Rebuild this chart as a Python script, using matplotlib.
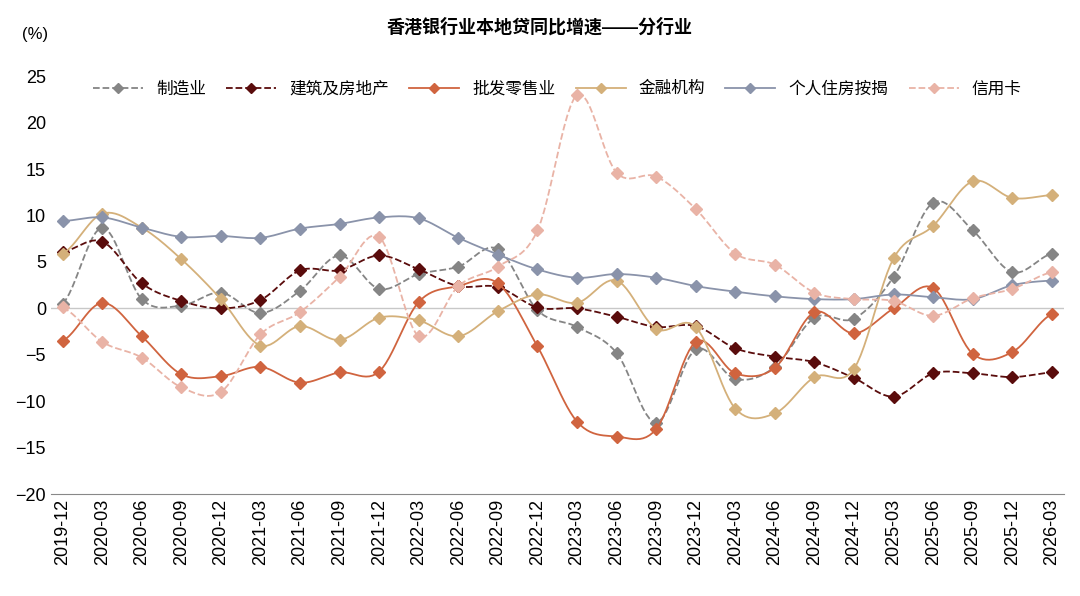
import numpy as np
import matplotlib.pyplot as plt

plt.rcParams['font.family'] = ['Liberation Sans', 'Noto Sans CJK SC', 'DejaVu Sans']

quarters = ['2019-12', '2020-03', '2020-06', '2020-09', '2020-12', '2021-03', '2021-06', '2021-09',
            '2021-12', '2022-03', '2022-06', '2022-09', '2022-12', '2023-03', '2023-06', '2023-09',
            '2023-12', '2024-03', '2024-06', '2024-09', '2024-12', '2025-03', '2025-06', '2025-09',
            '2025-12', '2026-03']

manufacturing = [0.5, 8.7, 1.0, 0.3, 1.7, -0.5, 1.9, 5.7, 2.1, 3.7, 4.5, 6.4, -0.2, -2.0, -4.8, -12.3,
                 -4.4, -7.6, -6.3, -1.0, -1.1, 3.4, 11.4, 8.4, 3.9, 5.9]
construction = [6.1, 7.2, 2.7, 0.8, 0.0, 0.9, 4.1, 4.1, 5.7, 4.2, 2.4, 2.3, 0.1, 0.0, -0.9, -2.0,
                -1.9, -4.3, -5.2, -5.8, -7.5, -9.5, -7.0, -7.0, -7.4, -6.9]
wholesale = [-3.5, 0.6, -3.0, -7.1, -7.3, -6.3, -8.0, -6.9, -6.8, 0.7, 2.4, 2.7, -4.1, -12.2, -13.8, -13.0,
             -3.6, -7.0, -6.4, -0.4, -2.7, 0.0, 2.2, -4.9, -4.7, -0.6]
financial = [5.9, 10.2, 8.7, 5.3, 1.0, -4.0, -1.9, -3.4, -1.0, -1.3, -3.0, -0.3, 1.5, 0.6, 3.0, -2.2,
             -2.0, -10.8, -11.3, -7.4, -6.5, 5.4, 8.9, 13.7, 11.9, 12.2]
mortgage = [9.4, 9.8, 8.7, 7.7, 7.8, 7.6, 8.6, 9.1, 9.8, 9.7, 7.6, 5.8, 4.2, 3.3, 3.7, 3.3,
            2.4, 1.8, 1.3, 1.0, 1.0, 1.5, 1.2, 1.0, 2.5, 3.0]
credit_card = [0.1, -3.6, -5.3, -8.5, -9.0, -2.8, -0.4, 3.4, 7.7, -3.0, 2.4, 4.5, 8.4, 23.0, 14.6, 14.2,
               10.7, 5.9, 4.7, 1.7, 1.0, 0.8, -0.8, 1.1, 2.1, 3.9]


def smooth(y, n=12):
    # Catmull-Rom curve through the points, for drawing only
    y = np.asarray(y, float)
    p = np.concatenate([[y[0]], y, [y[-1]]])
    xs, ys = [], []
    t = np.linspace(0, 1, n, endpoint=False)
    for i in range(len(y) - 1):
        p0, p1, p2, p3 = p[i], p[i + 1], p[i + 2], p[i + 3]
        seg = 0.5 * (2 * p1 + (-p0 + p2) * t + (2 * p0 - 5 * p1 + 4 * p2 - p3) * t ** 2
                     + (-p0 + 3 * p1 - 3 * p2 + p3) * t ** 3)
        xs.extend(i + t)
        ys.extend(seg)
    xs.append(len(y) - 1)
    ys.append(y[-1])
    return np.array(xs), np.array(ys)


series = [
    ('制造业', manufacturing, '#858585', '--'),
    ('建筑及房地产', construction, '#5a0c0c', '--'),
    ('批发零售业', wholesale, '#d0643f', '-'),
    ('金融机构', financial, '#d4b07a', '-'),
    ('个人住房按揭', mortgage, '#8a93aa', '-'),
    ('信用卡', credit_card, '#e9b3a6', '--'),
]

fig, ax = plt.subplots(figsize=(10.8, 5.96), dpi=100)
fig.subplots_adjust(left=0.047, right=0.985, top=0.872, bottom=0.171)

x = np.arange(len(quarters))
ax.axhline(0, color='#c8c8c8', lw=1)
for name, vals, color, ls in series:
    sx, sy = smooth(vals)
    ax.plot(sx, sy, color=color, ls=ls, lw=1.3)
    ax.plot(x, vals, ls='none', marker='D', ms=6, color=color)
    ax.plot([], [], color=color, ls=ls, lw=1.3, marker='D', ms=5, label=name)

ax.set_xlim(-0.3, len(quarters) - 0.7)
ax.set_ylim(-20, 25)
ax.set_yticks(range(-20, 26, 5))
ax.set_xticks(x)
ax.set_xticklabels(quarters, rotation=90)
ax.tick_params(labelsize=13, length=0)
for s in ['top', 'right', 'left']:
    ax.spines[s].set_visible(False)
ax.spines['bottom'].set_color('#888888')

ax.legend(loc='upper center', bbox_to_anchor=(0.5, 1.025), ncol=6, frameon=False,
          fontsize=12, handlelength=3, columnspacing=1.2)
fig.text(0.5, 0.945, '香港银行业本地贷同比增速——分行业', ha='center', fontsize=13, fontweight='bold')
fig.text(0.02, 0.935, '(%)', fontsize=12)

fig.savefig('out.png')
